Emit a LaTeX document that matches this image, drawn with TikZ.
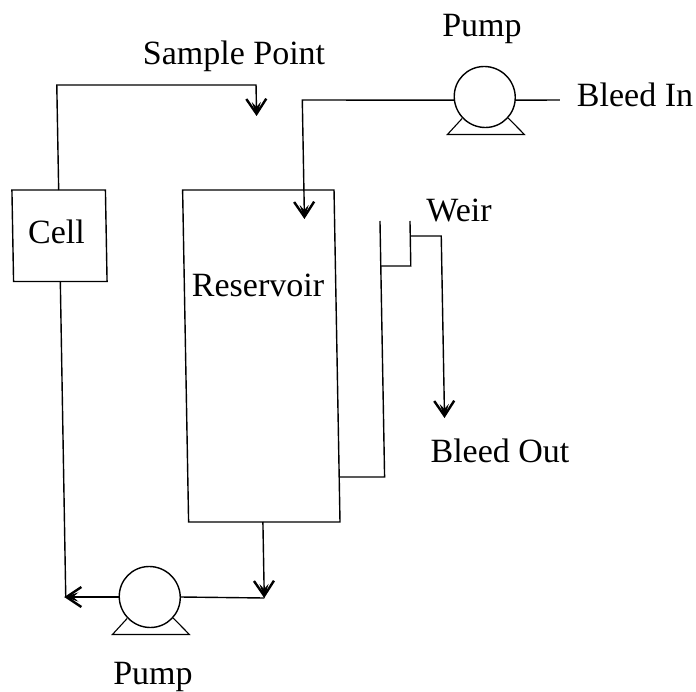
\documentclass[tikz,border=0pt]{standalone}
\usepackage{fontspec}
\setmainfont{Liberation Serif}
\usetikzlibrary{arrows.meta}
\tikzset{
  pipe/.style={line width=1.4pt,line join=miter},
  flow/.style={pipe,arrows={-Straight Barb[length=15pt,width=20pt,line width=2.4pt,sep=-14pt]Stealth[length=14pt,width=9pt,inset=5pt]}},
  vessel/.style={draw,line width=1.4pt,inner sep=0pt,outer sep=0pt,transform shape},
  pumpbody/.style={draw,circle,line width=1.4pt,inner sep=0pt,outer sep=0pt,minimum size=61pt,transform shape},
  lbl/.style={inner sep=0pt,outer sep=0pt,anchor=base,font=\fontsize{34}{40}\selectfont}
}
\begin{document}
\begin{tikzpicture}[x=1pt,y=-1pt]
\useasboundingbox (0,0) rectangle (696,692);
\begin{scope}[xslant=-0.018]
  % vessels
  \node[vessel,minimum width=93.5pt,minimum height=91.5pt] (cell) at (55.25,235.75) {};
  \node[vessel,minimum width=151.4pt,minimum height=332pt] (reservoir) at (254.9,356) {};
  % pumps
  \node[pumpbody] (pumpin) at (483,97) {};
  \node[pumpbody] (pumpout) at (139,597) {};
  \foreach \p in {pumpin,pumpout}{
    \draw[line width=1.1pt,line join=miter] (\p.center) ++(-23,21.5) -- ++(-15,16) -- ++(77,0) -- ++(-16,-16.5);
  }
  % free ends
  \coordinate (sampleturn) at (254.5,85);
  \coordinate (sampleend) at (254.5,116);
  \coordinate (feedturn) at (300.5,100);
  \coordinate (feedend) at (300.5,219);
  \coordinate (bleedin) at (558,100);
  \coordinate (wallbase) at (376,477);
  \coordinate (wallres) at (330.6,477);
  \coordinate (walltop) at (376,221);
  \coordinate (weirstep) at (376,266);
  \coordinate (weirinner) at (406,266);
  \coordinate (weirtop) at (406,221);
  \coordinate (weirout) at (406,236);
  \coordinate (weirturn) at (437,236);
  \coordinate (bleedend) at (437,418);
  \coordinate (outlet) at (253.5,522);
  \coordinate (outletend) at (253.5,598);
  \coordinate (returnend) at (53.5,597);
  \coordinate (returnturn) at (55,597);
  % connectors
  \draw[flow] (cell.north) -- (cell.north |- sampleturn) -- (sampleturn) -- (sampleend);
  \draw[flow] (pumpin.186) -- (feedturn) -- (feedend);
  \draw[pipe] (pumpin.-6) -- (bleedin);
  \draw[pipe] (wallres) -- (wallbase) -- (walltop);
  \draw[pipe] (weirstep) -- (weirinner) -- (weirtop);
  \draw[flow] (weirout) -- (weirturn) -- (bleedend);
  \draw[pipe] (cell.south) -- (returnturn);
  \draw[flow] (pumpout.west) -- (returnend);
  \draw[flow] (outlet) -- (outletend);
  \draw[pipe] (outletend) -- (pumpout.east);
\end{scope}
% labels
\node[lbl] (lsample) at (234,65) {Sample Point};
\node[lbl] (lpumptop) at (482,37) {Pump};
\node[lbl] (lbleedin) at (635,107) {Bleed In};
\node[lbl] (lweir) at (459,222) {Weir};
\node[lbl] (lcell) at (56.5,244) {Cell};
\node[lbl] (lres) at (258,297) {Reservoir};
\node[lbl] (lbleedout) at (500,462) {Bleed Out};
\node[lbl] (lpumpbot) at (153,684.5) {Pump};
\end{tikzpicture}
\end{document}
